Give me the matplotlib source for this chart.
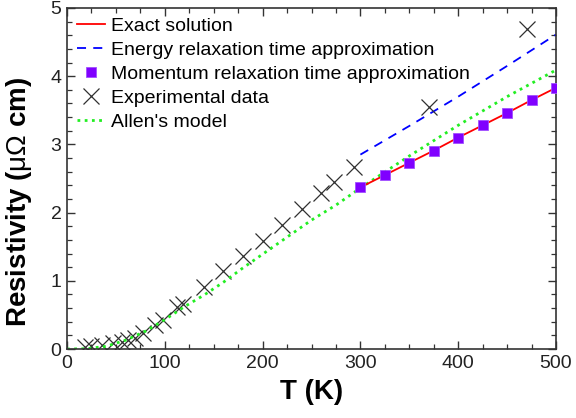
import matplotlib
matplotlib.use("Agg")
import matplotlib.pyplot as plt
from matplotlib.ticker import MultipleLocator

plt.rcParams['font.family'] = ['Liberation Sans', 'DejaVu Sans']
plt.rcParams['mathtext.fontset'] = 'custom'
plt.rcParams['mathtext.rm'] = 'Liberation Sans'

# Exact solution and momentum relaxation time approximation (K, μΩ cm)
T_calc = [300, 325, 350, 375, 400, 425, 450, 475, 500]
rho_exact = [2.37, 2.55, 2.73, 2.91, 3.10, 3.28, 3.46, 3.65, 3.83]
rho_momentum = [2.37, 2.55, 2.73, 2.91, 3.10, 3.28, 3.46, 3.65, 3.83]

# Energy relaxation time approximation
T_energy = [300, 350, 400, 450, 500]
rho_energy = [2.85, 3.27, 3.70, 4.15, 4.61]

# Experimental data
T_exp = [18, 25, 36, 47, 56, 62, 70, 78, 90, 98, 112, 119, 140, 160, 180,
         200, 220, 240, 260, 273, 293, 370, 470]
rho_exp = [0.03, 0.04, 0.06, 0.09, 0.10, 0.13, 0.16, 0.23, 0.35, 0.43, 0.62,
           0.66, 0.91, 1.14, 1.36, 1.58, 1.82, 2.05, 2.29, 2.45, 2.67, 3.55, 4.69]

# Allen's model
T_allen = [0, 20, 40, 60, 80, 100, 120, 140, 160, 180, 200, 225, 250, 275,
           300, 350, 400, 450, 500]
rho_allen = [0, 0.005, 0.04, 0.13, 0.26, 0.43, 0.62, 0.79, 0.98, 1.19, 1.39,
             1.64, 1.89, 2.11, 2.36, 2.83, 3.28, 3.70, 4.09]

fig = plt.figure(figsize=(5.76, 4.18), dpi=100)
ax = fig.add_axes([0.1163, 0.165, 0.849, 0.816])

ax.plot(T_calc, rho_exact, color='#ff0000', lw=1.3, label='Exact solution', zorder=3)
ax.plot(T_energy, rho_energy, color='#0000ff', lw=1.3, ls=(0, (5, 4)),
        label='Energy relaxation time approximation')
ax.plot(T_calc, rho_momentum, ls='none', marker='s', ms=7, color='#8000ff',
        mec='#a050ff', mew=0.6, label='Momentum relaxation time approximation', zorder=4)
ax.plot(T_exp, rho_exp, ls='none', marker='x', ms=11, mew=0.9, color='#303030',
        label='Experimental data')
ax.plot(T_allen, rho_allen, color='#22ee22', lw=2.0, ls=(0, (1, 1.6)),
        label="Allen's model", zorder=2)

ax.set_xlim(0, 500)
ax.set_ylim(0, 5)
ax.xaxis.set_major_locator(MultipleLocator(100))
ax.xaxis.set_minor_locator(MultipleLocator(25))
ax.yaxis.set_major_locator(MultipleLocator(1))
ax.yaxis.set_minor_locator(MultipleLocator(0.2))
ax.tick_params(which='both', direction='in', top=True, right=True,
               labelsize=14, color='#333333', labelcolor='#222222')
ax.tick_params(which='major', length=6, width=1, pad=4)
ax.tick_params(which='minor', length=3.5, width=0.9)
for s in ax.spines.values():
    s.set_color('#333333')
    s.set_linewidth(1.2)

ax.set_xlabel('T (K)', fontsize=20, fontweight='bold', labelpad=5)
ax.set_ylabel(r'Resistivity ($\mathrm{μΩ}$ cm)', fontsize=20, fontweight='bold')
ax.yaxis.set_label_coords(-0.068, 0.43)

ax.legend(loc='upper left', frameon=False, fontsize=14, handlelength=1.45,
          handletextpad=0.3, labelspacing=0.32, borderaxespad=0.1,
          bbox_to_anchor=(0.0, 1.0))

fig.savefig('out.png', dpi=100)
